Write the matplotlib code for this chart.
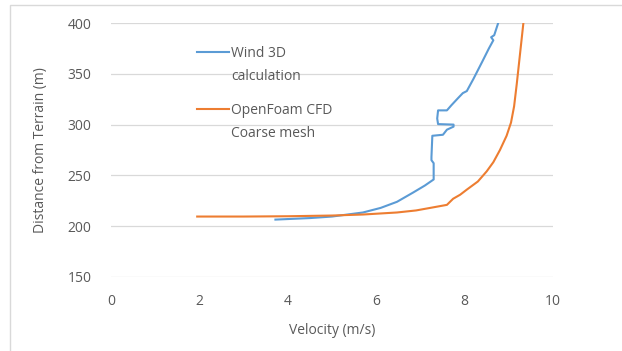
"""Velocity profile: Wind 3D vs OpenFoam CFD (coarse mesh)."""
import matplotlib
matplotlib.use("Agg")
import matplotlib.pyplot as plt
from matplotlib.patches import Rectangle
from matplotlib.lines import Line2D

# Wind 3D calculation (velocity m/s, height m)
wind3d_v = [3.72, 4.5, 5.0, 5.35, 5.7, 6.1, 6.47, 6.83, 7.1, 7.3, 7.3, 7.25, 7.25,
            7.27, 7.51, 7.6, 7.75, 7.75, 7.4, 7.38, 7.4, 7.6, 7.7, 7.85, 7.96,
            8.05, 8.2, 8.4, 8.55, 8.65, 8.6, 8.67, 8.76]
wind3d_h = [206.5, 208, 209.5, 211.5, 213.5, 218, 224, 233, 240, 246, 262, 265, 268,
            289, 290, 295, 298, 300, 300.5, 306, 314, 314, 319, 326, 331,
            333, 345, 362, 375, 383, 386, 388, 400]

# OpenFoam CFD coarse mesh
cfd_v = [1.95, 3.0, 4.0, 5.0, 5.7, 6.47, 6.9, 7.22, 7.6, 7.74, 7.9, 8.05, 8.3,
         8.5, 8.65, 8.8, 8.95, 9.05, 9.12, 9.18, 9.23, 9.28, 9.33]
cfd_h = [209.5, 209.5, 209.8, 210.5, 211.5, 213.5, 215.5, 218, 221, 227, 231, 236, 244,
         254, 263, 275, 289, 302, 318, 340, 360, 380, 400]

x_ticks = [0, 2, 4, 6, 8, 10]
y_ticks = [150, 200, 250, 300, 350, 400]
labels = [["Wind 3D", "calculation"], ["OpenFoam CFD", "Coarse mesh"]]
colors = ["#5B9BD5", "#ED7D31"]

plt.rcParams["font.family"] = ["Open Sans", "DejaVu Sans"]
text_c = "#595959"

fig = plt.figure(figsize=(6.22, 3.51), dpi=100)
fig.patches.append(Rectangle((10 / 622, -0.2), 1.2, 1.2 - 5 / 351,
                             transform=fig.transFigure, fill=False,
                             edgecolor="#d9d9d9", lw=1.0))
ax = fig.add_axes([111 / 622, 1 - 277 / 351, 442 / 622, 254 / 351])

ax.plot(wind3d_v, wind3d_h, color=colors[0], lw=1.5)
ax.plot(cfd_v, cfd_h, color=colors[1], lw=1.5)

ax.set_xlim(0, 10)
ax.set_ylim(150, 400)
ax.set_xticks(x_ticks)
ax.set_yticks(y_ticks)
ax.grid(axis="y", color="#d9d9d9", lw=0.9)
ax.set_axisbelow(True)
for s in ax.spines.values():
    s.set_visible(False)
ax.tick_params(length=0, labelsize=10, colors=text_c)
ax.tick_params(axis="x", pad=12)
ax.tick_params(axis="y", pad=14)
ax.set_xlabel("Velocity (m/s)", fontsize=10, color=text_c, labelpad=10)
ax.set_ylabel("Distance from Terrain (m)", fontsize=10, color=text_c, labelpad=14)

# legend drawn by hand so the handle sits on the first line of each label
for i, (lab, c) in enumerate(zip(labels, colors)):
    y0 = (277 - (52 + 57 * i)) / 254
    ax.add_line(Line2D([0.195, 0.266], [y0, y0], color=c, lw=1.5,
                       transform=ax.transAxes))
    for j, line in enumerate(lab):
        ax.text(0.272, y0 - 0.02 - j * 23 / 254, line, transform=ax.transAxes,
                fontsize=10, color=text_c, va="baseline", ha="left")

fig.savefig("out.png", dpi=100)
